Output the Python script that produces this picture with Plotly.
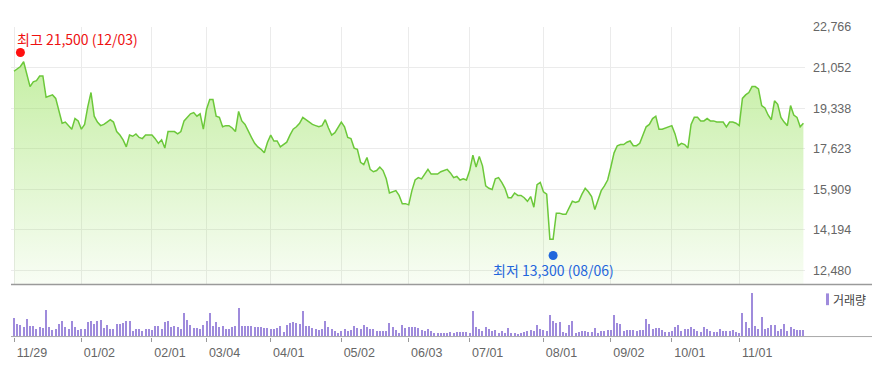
import pandas as pd
import plotly.graph_objects as go

# ---------------- data ----------------
holidays = ["2018-12-25", "2018-12-31", "2019-01-01", "2019-02-04", "2019-02-05",
            "2019-02-06", "2019-03-01", "2019-05-01", "2019-05-06", "2019-06-06",
            "2019-08-15", "2019-09-12", "2019-09-13", "2019-10-03", "2019-10-09"]
dates = [d.strftime("%Y-%m-%d") for d in pd.bdate_range("2018-11-29", "2019-11-29")
         if d.strftime("%Y-%m-%d") not in holidays]

close = [20900, 21000, 21100, 21300, 20800, 20250, 20450, 20500, 20700, 20700,
         19800, 19850, 19900, 19750, 19200, 18700, 18750, 18600, 18450, 18900,
         18800, 18450, 18650, 19400, 20000, 19000, 18750, 18600, 18650, 18750,
         18850, 18750, 18350, 18200, 18000, 17700, 18200, 18150, 18250, 18100,
         18050, 18200, 18200, 18200, 18050, 17850, 18000, 17650, 18350, 18350,
         18350, 18250, 18350, 18800, 18950, 19100, 19150, 19000, 19100, 18450,
         19300, 19700, 19700, 19000, 18950, 18550, 18600, 18600, 18500, 18350,
         19200, 18800, 18650, 18350, 18100, 17850, 17700, 17600, 17450, 17900,
         18200, 17950, 17950, 17700, 17800, 17900, 18200, 18450, 18550, 18700,
         18950, 18850, 18750, 18650, 18600, 18550, 18600, 18850, 18500, 18200,
         18300, 18500, 18750, 18550, 18100, 18050, 17650, 17600, 17050, 16950,
         17250, 16750, 16650, 16700, 16850, 16700, 16350, 15750, 15800, 15850,
         15650, 15300, 15300, 15250, 15850, 16300, 16400, 16350, 16550, 16750,
         16550, 16550, 16550, 16650, 16700, 16750, 16600, 16400, 16450, 16300,
         16350, 16300, 16700, 17350, 16850, 17300, 16900, 16050, 15950, 15900,
         16350, 16400, 16200, 15950, 15550, 15550, 15750, 15650, 15650, 15550,
         15400, 15600, 15150, 16100, 16200, 15800, 15700, 13800, 13800, 14900,
         14900, 14850, 14850, 15150, 15400, 15350, 15400, 15700, 15950, 15800,
         15600, 15050, 15450, 15850, 16050, 16300, 16850, 17450, 17750, 17800,
         17800, 17900, 17950, 17750, 17750, 17850, 18200, 18550, 18650, 18900,
         19000, 18450, 18450, 18500, 18550, 18600, 18250, 17750, 17850, 17800,
         17650, 18650, 18950, 18950, 18800, 18800, 18900, 18800, 18800, 18750,
         18750, 18750, 18550, 18750, 18750, 18700, 18600, 19750, 19900, 20000,
         20250, 20250, 20150, 19450, 19350, 19050, 18850, 19650, 19500, 18950,
         18750, 18600, 19450, 19050, 18950, 18550, 18700]

volume = [193, 137, 127, 100, 187, 117, 110, 83, 100, 93,
          277, 100, 67, 77, 137, 167, 100, 83, 167, 100,
          67, 77, 77, 153, 160, 133, 167, 177, 93, 127,
          77, 77, 137, 137, 143, 167, 160, 60, 87, 87,
          60, 87, 77, 67, 117, 117, 77, 153, 160, 103,
          110, 100, 77, 243, 177, 127, 93, 93, 83, 127,
          160, 243, 110, 153, 100, 110, 77, 83, 100, 110,
          293, 117, 110, 110, 117, 100, 100, 100, 93, 93,
          87, 83, 93, 117, 53, 127, 143, 153, 143, 133,
          267, 117, 117, 93, 87, 67, 77, 167, 103, 77,
          60, 43, 60, 77, 60, 67, 110, 93, 83, 127,
          103, 77, 77, 60, 60, 60, 60, 143, 103, 67,
          43, 127, 93, 103, 103, 100, 93, 67, 60, 83,
          60, 43, 43, 43, 43, 43, 53, 43, 53, 53,
          53, 53, 43, 267, 103, 77, 60, 103, 77, 60,
          67, 43, 60, 43, 93, 37, 37, 27, 37, 53,
          60, 67, 60, 120, 77, 67, 60, 220, 167, 143,
          153, 53, 43, 127, 167, 43, 53, 60, 60, 53,
          53, 93, 43, 60, 60, 67, 67, 220, 143, 133,
          60, 67, 67, 67, 60, 67, 67, 183, 137, 87,
          93, 93, 67, 53, 53, 60, 100, 127, 60, 77,
          77, 100, 87, 60, 53, 103, 77, 60, 53, 53,
          77, 60, 60, 60, 67, 53, 43, 243, 153, 93,
          453, 117, 77, 203, 77, 93, 127, 127, 60, 77,
          133, 60, 100, 87, 67, 67, 67]

price_ticks = [12480, 14194, 15909, 17623, 19338, 21052, 22766]
tick_dates = ["2018-11-29", "2019-01-02", "2019-02-01", "2019-03-04", "2019-04-01",
              "2019-05-02", "2019-06-03", "2019-07-01", "2019-08-01", "2019-09-02",
              "2019-10-01", "2019-11-01"]
tick_labels = [d[5:7] + "/" + d[8:10] for d in tick_dates]

high_date, high_value = "2018-12-03", 21500
low_date, low_value = "2019-08-06", 13300

assert len(dates) == len(close) == len(volume)

# ---------------- figure ----------------
W, H = 872, 365
X_LEFT, X_RIGHT = 11, 805
PRICE_TOP, PRICE_BOT = 20.5, 283
VOL_TOP, VOL_BOT = 286, 336

def py(px):
    return 1 - px / H

NUM_FONT = "Liberation Sans, Arial, sans-serif"
KR_FONT = "Noto Sans CJK KR, sans-serif"

fig = go.Figure()

fig.add_trace(go.Scatter(
    x=dates, y=close, xaxis="x2", yaxis="y2", mode="lines",
    line=dict(color="#6cc83a", width=1.5),
    fill="tozeroy",
    fillgradient=dict(type="vertical", start=11878, stop=21300,
                      colorscale=[[0, "rgba(150,225,90,0.05)"],
                                  [1, "rgba(150,225,90,0.55)"]]),
    hoverinfo="skip", showlegend=False))

fig.add_trace(go.Bar(
    x=dates, y=volume, xaxis="x", yaxis="y", width=0.32,
    marker=dict(color="#9f8bdc", line=dict(width=0)),
    hoverinfo="skip", showlegend=False))

val_per_px = (22766 - 12480) / (268.5 - 20.5)
price_bottom = 22766 - (PRICE_BOT - PRICE_TOP) * val_per_px

xrange = [-0.935, 246.5]
fig.update_layout(
    width=W, height=H, autosize=False,
    margin=dict(l=0, r=0, t=0, b=0),
    paper_bgcolor="white", plot_bgcolor="rgba(0,0,0,0)",
    bargap=0,
    xaxis=dict(type="category", domain=[X_LEFT / W, X_RIGHT / W], range=xrange,
               anchor="y", tickmode="array", tickvals=tick_dates, ticktext=tick_labels,
               ticks="outside", ticklen=4, tickcolor="#9a9a9a", tickwidth=1,
               ticklabelshift=18, showgrid=False, showline=False, zeroline=False,
               tickfont=dict(family=NUM_FONT, size=12.5, color="#666666")),
    yaxis=dict(domain=[py(VOL_BOT), py(VOL_TOP)], range=[0, 500], anchor="x",
               showgrid=False, showticklabels=False, zeroline=False, showline=False),
    xaxis2=dict(type="category", domain=[X_LEFT / W, X_RIGHT / W], range=xrange,
                anchor="y2", tickmode="array", tickvals=tick_dates,
                showticklabels=False, ticks="", showgrid=True, gridcolor="#ebebeb",
                gridwidth=1, zeroline=False, showline=False),
    yaxis2=dict(domain=[py(PRICE_BOT), py(PRICE_TOP)], range=[price_bottom, 22766],
                anchor="x2", side="right", tickmode="array", tickvals=price_ticks,
                ticktext=[f"{v:,}" for v in price_ticks], ticks="",
                ticklabelstandoff=7, showgrid=True, gridcolor="#ebebeb", gridwidth=1,
                zeroline=False, showline=False,
                tickfont=dict(family=NUM_FONT, size=12.5, color="#666666")),
)

shapes = [
    dict(type="line", xref="paper", yref="paper", x0=X_LEFT / W, x1=1,
         y0=py(PRICE_BOT), y1=py(PRICE_BOT), line=dict(color="#9a9a9a", width=1.5)),
    dict(type="line", xref="paper", yref="paper", x0=X_LEFT / W, x1=1,
         y0=py(VOL_BOT), y1=py(VOL_BOT), line=dict(color="#a8a8a8", width=1)),
    dict(type="circle", xref="x2", yref="y2", xsizemode="pixel", ysizemode="pixel",
         xanchor=high_date, yanchor=high_value, x0=-4.5, x1=4.5, y0=0, y1=9,
         fillcolor="#ff1010", line=dict(width=0)),
    dict(type="circle", xref="x2", yref="y2", xsizemode="pixel", ysizemode="pixel",
         xanchor=low_date, yanchor=low_value, x0=-4.5, x1=4.5, y0=-9, y1=0,
         fillcolor="#1f66dc", line=dict(width=0)),
    dict(type="rect", xref="paper", yref="paper", x0=826 / W, x1=829 / W,
         y0=py(304), y1=py(292), fillcolor="#9f8bdc", line=dict(width=0)),
]
fig.update_layout(shapes=shapes)

hd = high_date[5:7] + "/" + high_date[8:10]
ld = low_date[5:7] + "/" + low_date[8:10]
fig.add_annotation(xref="x2", yref="y2", x=high_date, y=high_value,
                   text=f"최고 {high_value:,} ({hd})", showarrow=False,
                   xanchor="left", yanchor="middle", xshift=-5, yshift=18,
                   font=dict(family=KR_FONT, size=14, color="#ee1111"))
fig.add_annotation(xref="x2", yref="y2", x=low_date, y=low_value,
                   text=f"최저 {low_value:,} ({ld})", showarrow=False,
                   xanchor="center", yanchor="middle", yshift=-19,
                   font=dict(family=KR_FONT, size=14, color="#1f66dc"))
fig.add_annotation(xref="paper", yref="paper", x=831 / W, y=py(298),
                   text="거래량", showarrow=False, xanchor="left", yanchor="middle",
                   font=dict(family=KR_FONT, size=12, color="#444444"))

fig.write_html("out.html")
